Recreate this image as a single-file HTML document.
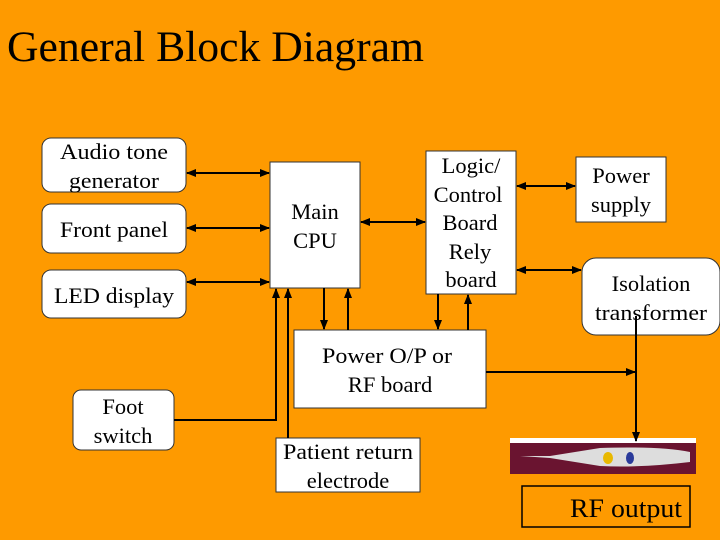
<!DOCTYPE html>
<html><head><style>body{margin:0;background:#FE9A00}svg{display:block}</style></head><body>
<svg width="720" height="540" xmlns="http://www.w3.org/2000/svg" font-family="Liberation Serif, serif">
<defs><marker id="a" viewBox="0 0 10 10" refX="9" refY="5" markerWidth="5" markerHeight="5" orient="auto-start-reverse"><path d="M0,1L10,5L0,9z" fill="#000"/></marker></defs>
<rect width="720" height="540" fill="#FE9A00"/>
<text x="7" y="61" font-size="43.5" textLength="417" lengthAdjust="spacingAndGlyphs">General Block Diagram</text>
<g fill="#fff" stroke="#333" stroke-width="1">
<rect x="42" y="138" width="144" height="54" rx="9"/>
<rect x="42" y="204" width="144" height="49" rx="9"/>
<rect x="42" y="270" width="144" height="48" rx="9"/>
<rect x="73" y="390" width="101" height="60" rx="8"/>
<rect x="270" y="162" width="90" height="126"/>
<rect x="426" y="151" width="90" height="143"/>
<rect x="576" y="157" width="90" height="65"/>
<rect x="582" y="258" width="138" height="77" rx="14"/>
<rect x="294" y="330" width="192" height="78"/>
<rect x="276" y="438" width="144" height="54"/>
</g>
<rect x="510" y="438" width="186" height="36" fill="#6a1430"/>
<rect x="510" y="438" width="186" height="5" fill="#fff"/>
<path d="M520 456 L550 456 L600 448 Q660 446 690 452 L690 462 Q640 468 600 466 L550 458 Z" fill="#ddd"/>
<ellipse cx="608" cy="458" rx="5" ry="6" fill="#e8b800"/>
<ellipse cx="630" cy="458" rx="4" ry="6" fill="#2a3a9a"/>
<rect x="522" y="486" width="168" height="41" fill="none" stroke="#000" stroke-width="1.5"/>
<g font-size="22.5" text-anchor="middle">
<text x="114" y="159" textLength="108" lengthAdjust="spacingAndGlyphs">Audio tone</text><text x="114" y="188" textLength="90" lengthAdjust="spacingAndGlyphs">generator</text>
<text x="114" y="237" textLength="108" lengthAdjust="spacingAndGlyphs">Front panel</text>
<text x="114" y="303" textLength="120" lengthAdjust="spacingAndGlyphs">LED display</text>
<text x="123" y="414">Foot</text><text x="123" y="443">switch</text>
<text x="315" y="219">Main</text><text x="315" y="248">CPU</text>
<text x="471" y="173">Logic/</text><text x="468" y="202">Control</text><text x="470" y="230">Board</text><text x="470" y="259">Rely</text><text x="471" y="287">board</text>
<text x="621" y="183">Power</text><text x="621" y="212">supply</text>
<text x="651" y="291">Isolation</text><text x="651" y="320" textLength="112" lengthAdjust="spacingAndGlyphs">transformer</text>
<text x="387" y="363" textLength="130" lengthAdjust="spacingAndGlyphs">Power O/P or</text><text x="390" y="392">RF board</text>
<text x="348" y="459" textLength="130" lengthAdjust="spacingAndGlyphs">Patient return</text><text x="348" y="488">electrode</text>
<text x="626" y="517" font-size="26" textLength="112" lengthAdjust="spacingAndGlyphs">RF output</text>
</g>
<g stroke="#000" stroke-width="2" fill="none">
<line x1="187" y1="173" x2="269" y2="173" marker-start="url(#a)" marker-end="url(#a)"/>
<line x1="187" y1="228" x2="269" y2="228" marker-start="url(#a)" marker-end="url(#a)"/>
<line x1="187" y1="282" x2="269" y2="282" marker-start="url(#a)" marker-end="url(#a)"/>
<line x1="361" y1="222" x2="425" y2="222" marker-start="url(#a)" marker-end="url(#a)"/>
<line x1="517" y1="186" x2="575" y2="186" marker-start="url(#a)" marker-end="url(#a)"/>
<line x1="517" y1="270" x2="581" y2="270" marker-start="url(#a)" marker-end="url(#a)"/>
<polyline points="174,420 276,420 276,289" marker-end="url(#a)"/>
<line x1="288" y1="438" x2="288" y2="289" marker-end="url(#a)"/>
<line x1="324" y1="288" x2="324" y2="329" marker-end="url(#a)"/>
<line x1="348" y1="330" x2="348" y2="289" marker-end="url(#a)"/>
<line x1="438" y1="294" x2="438" y2="329" marker-end="url(#a)"/>
<line x1="468" y1="330" x2="468" y2="295" marker-end="url(#a)"/>
<line x1="486" y1="372" x2="635" y2="372" marker-end="url(#a)"/>
<line x1="636" y1="316" x2="636" y2="441" marker-end="url(#a)"/>
</g>
</svg>
</body></html>
